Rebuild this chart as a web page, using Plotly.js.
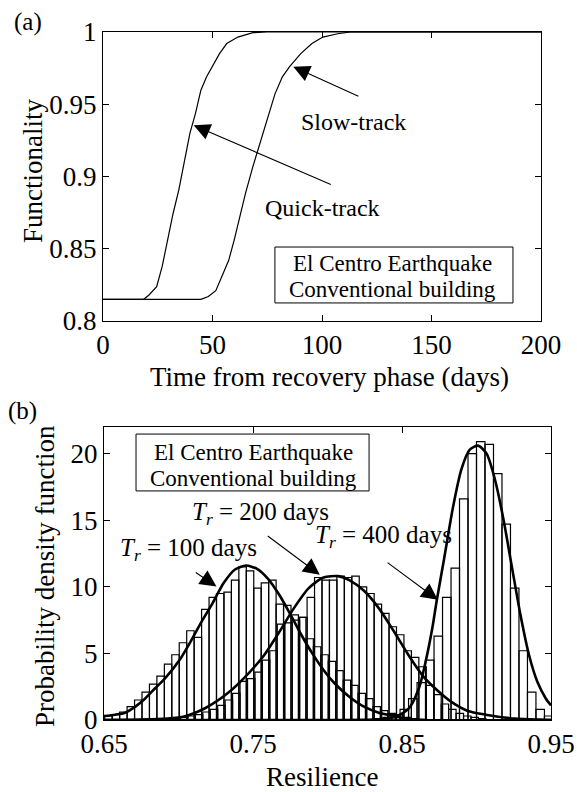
<!DOCTYPE html>
<html>
<head>
<meta charset="utf-8">
<script src="https://cdn.plot.ly/plotly-3.0.1.min.js"></script>
<style>html,body{margin:0;padding:0;background:#fff;}#chart{width:577px;height:792px;}</style>
</head>
<body>
<div id="chart"></div>
<script>
// ---------- Panel (a): functionality recovery curves ----------
const quickDays = [0, 18.6, 21, 24.5, 27, 29.5, 32, 34.6, 37.1, 39.7, 42.2, 44.7, 47.3, 49.8, 53.2, 56.5, 61.6, 68.4, 75, 200];
const quickFunc = [0.815, 0.815, 0.818, 0.8237, 0.8376, 0.856, 0.8744, 0.8906, 0.911, 0.930, 0.9435, 0.9597, 0.969, 0.976, 0.985, 0.992, 0.9965, 0.9995, 1, 1];
const slowDays = [0, 44.7, 48.1, 51.5, 54.9, 57.4, 59.9, 62.5, 65, 68.4, 71.7, 75.1, 78.5, 81.9, 85.2, 90.3, 95.4, 100.4, 107.2, 113, 200];
const slowFunc = [0.815, 0.815, 0.817, 0.821, 0.833, 0.842, 0.856, 0.872, 0.888, 0.9067, 0.9228, 0.941, 0.957, 0.969, 0.976, 0.985, 0.992, 0.9965, 0.9988, 1, 1];
const topXTicks = [0, 50, 100, 150, 200];
const topYTicks = [0.8, 0.85, 0.9, 0.95, 1];
const topYTickText = ['0.8', '0.85', '0.9', '0.95', '1'];

// ---------- Panel (b): resilience histograms (bin centres, densities) ----------
const h100Centers = [0.653,0.658,0.663,0.668,0.673,0.678,0.683,0.688,0.693,0.698,0.703,0.708,0.713,0.718,0.723,0.728,0.733,0.738,0.743,0.748,0.753,0.758,0.763,0.768,0.773,0.778,0.783,0.788,0.793,0.798,0.803,0.808,0.813,0.818,0.823,0.828,0.833,0.838,0.843,0.848,0.853,0.858,0.863];
const h100Density = [0.3,0.4,0.6,1.0,1.5,2.1,2.7,3.3,4.2,4.9,5.8,6.7,6.2,8.3,9.2,9.5,9.6,10.5,11.5,11.2,9.9,10.3,10.5,8.7,8.6,7.9,7.7,6.1,5.5,4.9,4.4,3.7,3.0,2.6,2.0,1.6,1.0,0.7,0.5,0.3,0.2,0.1,0.05];
const h200Centers = [0.6938,0.6988,0.7038,0.7088,0.7138,0.7188,0.7238,0.7288,0.7338,0.7388,0.7438,0.7488,0.7538,0.7588,0.7638,0.7688,0.7738,0.7788,0.7838,0.7888,0.7938,0.7988,0.8038,0.8088,0.8138,0.8188,0.8238,0.8288,0.8338,0.8388,0.8438,0.8488,0.8538,0.8588,0.8638,0.8688,0.8738,0.8788,0.8838,0.8888,0.8938,0.8988,0.9038];
const h200Density = [0.05,0.1,0.2,0.3,0.4,0.6,0.8,1.1,1.5,2.0,2.9,3.1,3.6,4.5,5.2,7.2,7.3,7.5,7.7,9.2,10.7,10.5,10.5,10.8,10.7,10.8,10.0,9.5,8.7,8.0,7.0,6.4,5.2,4.7,4.0,2.6,1.9,1.2,0.8,0.5,0.3,0.2,0.1];
const h400Centers = [0.83445,0.84015,0.84585,0.85155,0.85725,0.86295,0.86865,0.87435,0.88005,0.88575,0.89145,0.89715,0.90285,0.90855,0.91425,0.91995,0.92565,0.93135,0.93705,0.94275,0.94845];
const h400Density = [0.1,0.2,0.4,0.8,1.6,2.8,4.5,6.3,9.2,11.4,16.6,20.0,20.9,20.7,18.5,14.7,9.9,5.2,2.1,0.8,0.3];

// fitted PDF curves
const f100X = [0.65,0.6574,0.6641,0.671,0.6775,0.6845,0.6908,0.7007,0.7082,0.7156,0.723,0.7304,0.7379,0.7453,0.7527,0.7601,0.7676,0.775,0.7824,0.7898,0.7973,0.8047,0.8146,0.8245,0.8344,0.8443,0.8517,0.8641,0.95];
const f100Y = [0.3,0.4,0.55,1.0,1.6,2.4,3.1,4.5,5.9,7.4,8.8,10.3,11.3,11.6,11.35,10.6,9.4,7.95,6.4,5.0,3.76,2.76,1.75,1.0,0.55,0.3,0.13,0,0];
const f200X = [0.65,0.68,0.7032,0.7181,0.7329,0.7478,0.7577,0.7676,0.7775,0.7874,0.7973,0.8072,0.8146,0.8245,0.8344,0.8443,0.8542,0.8641,0.874,0.8839,0.8938,0.9062,0.926,0.95];
const f200Y = [0,0.05,0.25,0.9,2.0,3.6,4.9,6.6,8.4,9.9,10.7,10.8,10.5,9.7,8.4,6.7,4.9,3.3,2.2,1.3,0.7,0.4,0.1,0];
const f400X = [0.65,0.80,0.835,0.8455,0.8545,0.8614,0.8659,0.8705,0.8732,0.8784,0.8841,0.8898,0.8955,0.9011,0.9068,0.9125,0.9182,0.9239,0.9295,0.9352,0.9409,0.9466,0.95];
const f400Y = [0,0,0.05,0.25,0.85,2.4,4.4,7.0,8.9,12.2,15.9,18.8,20.3,20.6,20.0,18.0,15.0,11.4,7.9,4.9,2.85,1.6,1.1];
const botXTicks = [0.65, 0.75, 0.85, 0.95];
const botXTickText = ['0.65', '0.75', '0.85', '0.95'];
const botYTicks = [0, 5, 10, 15, 20];

const FONT = 'Liberation Serif, Times New Roman, serif';
const W = 577, H = 792;
const px = v => v / W;            // page x pixel -> paper
const py = v => (H - v) / H;      // page y pixel -> paper

const barStyle = {color: 'rgba(0,0,0,0)', line: {color: 'black', width: 1.2}};
const traces = [
  {x: quickDays, y: quickFunc, mode: 'lines', line: {color: 'black', width: 1.2}, xaxis: 'x', yaxis: 'y', hoverinfo: 'skip'},
  {x: slowDays, y: slowFunc, mode: 'lines', line: {color: 'black', width: 1.2}, xaxis: 'x', yaxis: 'y', hoverinfo: 'skip'},
  {type: 'bar', x: h100Centers, y: h100Density, width: 0.005, marker: barStyle, xaxis: 'x2', yaxis: 'y2'},
  {type: 'bar', x: h200Centers, y: h200Density, width: 0.005, marker: barStyle, xaxis: 'x2', yaxis: 'y2'},
  {type: 'bar', x: h400Centers, y: h400Density, width: 0.0057, marker: barStyle, xaxis: 'x2', yaxis: 'y2'},
  {x: f100X, y: f100Y, mode: 'lines', line: {color: 'black', width: 2.6, shape: 'spline', smoothing: 0.7}, xaxis: 'x2', yaxis: 'y2'},
  {x: f200X, y: f200Y, mode: 'lines', line: {color: 'black', width: 2.6, shape: 'spline', smoothing: 0.7}, xaxis: 'x2', yaxis: 'y2'},
  {x: f400X, y: f400Y, mode: 'lines', line: {color: 'black', width: 2.6, shape: 'spline', smoothing: 0.7}, xaxis: 'x2', yaxis: 'y2'}
];

const axisCommon = {
  ticks: 'inside', ticklen: 6, tickwidth: 1, tickcolor: 'black', mirror: 'ticks',
  showline: true, linecolor: 'black', linewidth: 1, showgrid: false, zeroline: false,
  tickfont: {family: FONT, size: 27, color: 'black'}, fixedrange: true
};

function label(x, y, text, size, extra) {
  return Object.assign({xref: 'paper', yref: 'paper', x: px(x), y: py(y), text: text, showarrow: false,
    xanchor: 'center', yanchor: 'middle', font: {size: size}}, extra || {});
}
function dataText(ax, x, y, text, size) {
  return {xref: 'x' + ax, yref: 'y' + ax, x: x, y: y, text: text, showarrow: false,
    xanchor: 'center', yanchor: 'middle', font: {size: size}};
}
function arrow(ax, x, y, tx, ty) {
  return {xref: 'x' + ax, yref: 'y' + ax, axref: 'x' + ax, ayref: 'y' + ax, x: x, y: y, ax: tx, ay: ty,
    text: '', showarrow: true, arrowhead: 2, arrowsize: 3, arrowwidth: 1.1, arrowcolor: 'black', standoff: 0};
}

const layout = {
  width: W, height: H, margin: {l: 0, r: 0, t: 0, b: 0},
  paper_bgcolor: 'white', plot_bgcolor: 'white', showlegend: false, barmode: 'overlay',
  font: {family: FONT, size: 27, color: 'black'},
  xaxis: Object.assign({}, axisCommon, {domain: [px(103), px(541)], range: [0, 200], tickmode: 'array', tickvals: topXTicks, anchor: 'y'}),
  yaxis: Object.assign({}, axisCommon, {domain: [py(321), py(32)], range: [0.8, 1], tickmode: 'array', tickvals: topYTicks, ticktext: topYTickText, anchor: 'x'}),
  xaxis2: Object.assign({}, axisCommon, {domain: [px(104), px(551)], range: [0.65, 0.95], tickmode: 'array', tickvals: botXTicks, ticktext: botXTickText, anchor: 'y2'}),
  yaxis2: Object.assign({}, axisCommon, {domain: [py(720), py(427)], range: [0, 22], tickmode: 'array', tickvals: botYTicks, anchor: 'x2'}),
  shapes: [
    {type: 'rect', xref: 'x', yref: 'y', x0: 78.5, x1: 187.2, y0: 0.8125, y1: 0.8512, line: {color: 'black', width: 1}, fillcolor: 'white', layer: 'above'},
    {type: 'rect', xref: 'x2', yref: 'y2', x0: 0.6715, x1: 0.8279, y0: 17.2, y1: 21.47, line: {color: 'black', width: 1}, fillcolor: 'white', layer: 'above'}
  ],
  annotations: [
    label(28, 22, '(a)', 25),
    label(23, 411, '(b)', 25),
    label(33, 171, 'Functionality', 27, {textangle: -90}),
    label(329, 377, 'Time from recovery phase (days)', 27),
    label(45, 576, 'Probability density function', 27, {textangle: -90}),
    label(322, 777, 'Resilience', 27),
    dataText('', 132.4, 0.8398, 'El Centro Earthquake', 23),
    dataText('', 132.4, 0.8215, 'Conventional building', 23),
    dataText('', 114.6, 0.938, 'Slow-track', 24),
    dataText('', 100.4, 0.878, 'Quick-track', 24),
    arrow('', 86.9, 0.976, 117.3, 0.955),
    arrow('', 41.4, 0.9355, 104.7, 0.894),
    dataText('2', 0.7503, 20.09, 'El Centro Earthquake', 23),
    dataText('2', 0.7503, 18.1, 'Conventional building', 23),
    dataText('2', 0.7069, 12.78, '<i>T<sub>r</sub></i> = 100 days', 25),
    dataText('2', 0.7552, 15.54, '<i>T<sub>r</sub></i> = 200 days', 25),
    dataText('2', 0.8374, 13.78, '<i>T<sub>r</sub></i> = 400 days', 25),
    arrow('2', 0.7255, 10.02, 0.7106, 11.15),
    arrow('2', 0.7948, 10.9, 0.7589, 13.9),
    arrow('2', 0.874, 9.02, 0.8393, 11.9)
  ]
};

Plotly.newPlot('chart', traces, layout, {displayModeBar: false, staticPlot: true});
</script>
</body>
</html>
